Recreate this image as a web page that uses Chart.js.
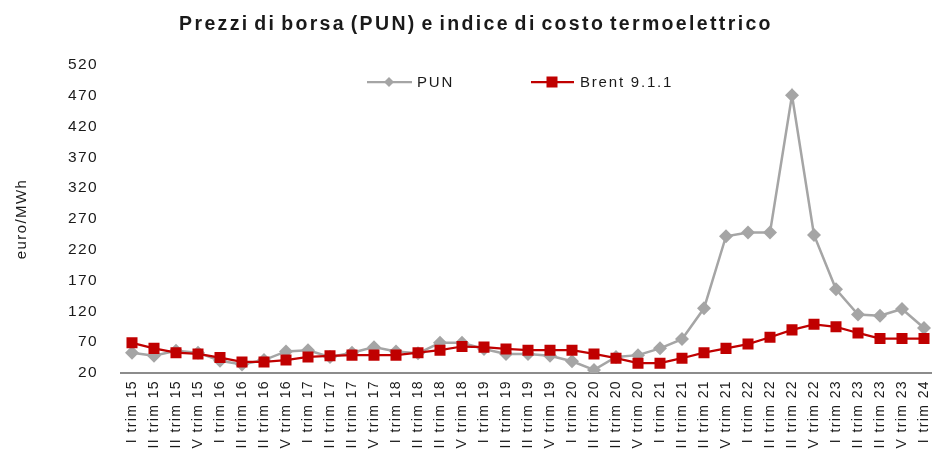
<!DOCTYPE html>
<html>
<head>
<meta charset="utf-8">
<script src="https://cdn.jsdelivr.net/npm/chart.js@4/dist/chart.umd.min.js"></script>
<style>
html,body{margin:0;padding:0;background:#fff;overflow:hidden;}
#wrap{width:932px;height:450px;}
</style>
</head>
<body>
<div id="wrap"><canvas id="c" width="932" height="450"></canvas></div>
<script>
const categories = [
  "I trim 15","II trim 15","III trim 15","IV trim 15",
  "I trim 16","II trim 16","III trim 16","IV trim 16",
  "I trim 17","II trim 17","III trim 17","IV trim 17",
  "I trim 18","II trim 18","III trim 18","IV trim 18",
  "I trim 19","II trim 19","III trim 19","IV trim 19",
  "I trim 20","II trim 20","III trim 20","IV trim 20",
  "I trim 21","II trim 21","III trim 21","IV trim 21",
  "I trim 22","II trim 22","III trim 22","IV trim 22",
  "I trim 23","II trim 23","III trim 23","IV trim 23",
  "I trim 24"
];
const punValues = [53,48,56,53,40,34,41,55,57,46,53,62,55,52,69,69,59,51,51,48,39,25,46,49,60,75,125,242,248,248,471,244,156,115,113,124,93];
const brentValues = [69,60,53,51,45,38,38,41,46,48,49,49,49,53,57,63,62,59,57,57,57,51,44,36,36,44,53,60,67,78,90,99,95,85,76,76,76];
const yTicks = [20,70,120,170,220,270,320,370,420,470,520];
const seriesNames = ["PUN","Brent 9.1.1"];
const titleText = "Prezzi di borsa (PUN) e indice di costo termoelettrico";
const yTitle = "euro/MWh";

const GRAY = "#A5A5A5";
const RED = "#C00000";
const TEXT = "#1a1a1a";
const FONT = "'Liberation Sans', Arial, sans-serif";
const SPACING = "1.4px";
const PLOT_RIGHT = 935;

const spacingPlugin = {
  id: 'spacing',
  beforeUpdate(chart) { chart.ctx.letterSpacing = SPACING; },
  afterLayout(chart) {
    const xs = chart.scales.x;
    xs.right = PLOT_RIGHT;
    xs.width = xs.right - xs.left;
    xs.configure();
    chart.chartArea.right = PLOT_RIGHT;
    chart.chartArea.width = PLOT_RIGHT - chart.chartArea.left;
  },
  beforeDraw(chart) { chart.ctx.letterSpacing = SPACING; }
};

const overlayPlugin = {
  id: 'overlay',
  afterDraw(chart) {
    const ctx = chart.ctx;
    ctx.save();
    ctx.font = "bold 19.5px " + FONT;
    ctx.letterSpacing = "2.35px";
    ctx.wordSpacing = "-3px";
    ctx.fillStyle = TEXT;
    ctx.textAlign = "center";
    ctx.textBaseline = "middle";
    ctx.fillText(titleText, 476, 25);
    ctx.wordSpacing = "0px";
    const y = 82;
    ctx.letterSpacing = "1.8px";
    ctx.textAlign = "left";
    ctx.font = "15px " + FONT;
    ctx.strokeStyle = GRAY; ctx.lineWidth = 2.25;
    ctx.beginPath(); ctx.moveTo(367, y); ctx.lineTo(412, y); ctx.stroke();
    ctx.fillStyle = GRAY;
    ctx.beginPath(); ctx.moveTo(389-5, y); ctx.lineTo(389, y-5); ctx.lineTo(389+5, y); ctx.lineTo(389, y+5); ctx.closePath(); ctx.fill();
    ctx.fillStyle = TEXT;
    ctx.fillText(seriesNames[0], 417, y+1);
    ctx.strokeStyle = RED;
    ctx.beginPath(); ctx.moveTo(531, y); ctx.lineTo(574, y); ctx.stroke();
    ctx.fillStyle = RED;
    ctx.fillRect(552-5.5, y-5.5, 11, 11);
    ctx.fillStyle = TEXT;
    ctx.fillText(seriesNames[1], 580, y+1);
    ctx.restore();
  }
};

new Chart(document.getElementById('c'), {
  type: 'line',
  data: {
    labels: categories,
    datasets: [
      {
        label: seriesNames[0], data: punValues,
        borderColor: GRAY, backgroundColor: GRAY, borderWidth: 2.5,
        pointStyle: 'rectRot', pointRadius: 7, pointBorderWidth: 0,
        pointBackgroundColor: GRAY, tension: 0, order: 1
      },
      {
        label: seriesNames[1], data: brentValues,
        borderColor: RED, backgroundColor: RED, borderWidth: 2.25,
        pointStyle: 'rect', pointRadius: 7.8, pointBorderWidth: 0,
        pointBackgroundColor: RED, tension: 0, order: 0
      }
    ]
  },
  options: {
    responsive: false,
    animation: false,
    layout: { padding: { top: 65, right: 0, bottom: 0, left: 0 } },
    plugins: {
      legend: { display: false },
      tooltip: { enabled: false },
      title: { display: false }
    },
    scales: {
      x: {
        offset: true,
        grid: { display: false, drawTicks: false },
        border: { display: true, color: "#8c8c8c", width: 2 },
        ticks: {
          autoSkip: false, minRotation: 90, maxRotation: 90,
          color: TEXT, padding: 7,
          font: { family: FONT, size: 14 }
        },
        afterFit(scale) { scale.height = 77; scale.paddingLeft = 0; scale.paddingRight = 0; }
      },
      y: {
        min: 20, max: 520,
        afterBuildTicks(scale) { scale.ticks = yTicks.map(v => ({ value: v })); },
        grid: { display: false, drawTicks: false },
        border: { display: false },
        ticks: { color: TEXT, padding: 23, font: { family: FONT, size: 15.5 } },
        title: {
          display: true, text: yTitle, color: TEXT,
          font: { family: FONT, size: 15 }, padding: { top: 13, bottom: 0 }
        },
        afterFit(scale) { scale.width = 121; scale.paddingTop = 0; scale.paddingBottom = 0; }
      }
    }
  },
  plugins: [spacingPlugin, overlayPlugin]
});
</script>
</body>
</html>
